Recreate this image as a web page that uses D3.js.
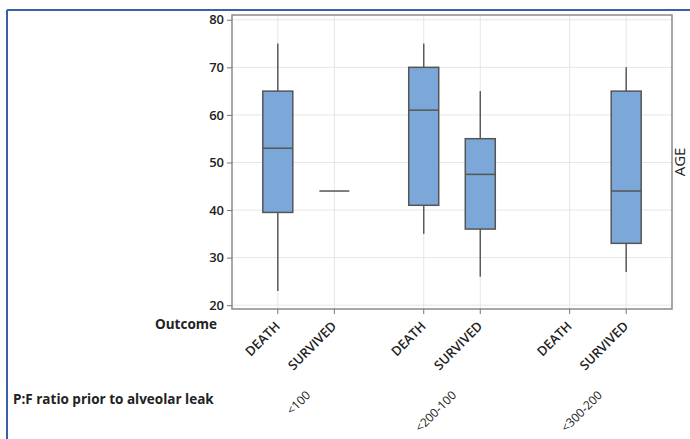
<!DOCTYPE html>
<html>
<head>
<meta charset="utf-8">
<script src="https://cdn.jsdelivr.net/npm/d3@7"></script>
<style>
  body { margin: 0; background: #fff; }
  text { font-family: "Open Sans", sans-serif; fill: #222; }
  .grid line { stroke: #e6e6e6; stroke-width: 1; }
  .axis path, .axis line { stroke: #777; }
  .axis text { font-size: 13px; font-weight: 600; }
</style>
</head>
<body>
<div id="chart"></div>
<script>
// P:F ratio groups and outcomes
var groups = ['<100', '<200-100', '<300-200'];
var outcomes = ['DEATH', 'SURVIVED'];
var yTicks = [20, 30, 40, 50, 60, 70, 80];

// box stats per group/outcome: [whiskerLow, q1, median, q3, whiskerHigh], null = no data
var deathStats = [[23, 39.5, 53, 65, 75], [35, 41, 61, 70, 75], null];
var survivedStats = [[44, 44, 44, 44, 44], [26, 36, 47.5, 55, 65], [27, 33, 44, 65, 70]];

var W = 690, H = 439;
var frame = { left: 232, right: 672, top: 15, bottom: 309 };
var groupStep = 2.58; // spacing between groups, in outcome units

var boxes = [];
groups.forEach(function(g, gi) {
  outcomes.forEach(function(o, oi) {
    var s = (oi === 0 ? deathStats : survivedStats)[gi];
    boxes.push({ group: g, outcome: o, pos: gi * groupStep + oi, stats: s });
  });
});

var x = d3.scaleLinear()
  .domain([-0.81, (groups.length - 1) * groupStep + 1 + 0.81])
  .range([frame.left, frame.right]);
var y = d3.scaleLinear().domain([19.2, 81]).range([frame.bottom, frame.top]);

var svg = d3.select('#chart').append('svg')
  .attr('width', W)
  .attr('height', H);

// outer page border
svg.append('line').attr('x1', 7).attr('x2', W).attr('y1', 10).attr('y2', 10)
  .attr('stroke', '#3b5fa8').attr('stroke-width', 2);
svg.append('line').attr('x1', 7).attr('x2', 7).attr('y1', 10).attr('y2', H)
  .attr('stroke', '#3b5fa8').attr('stroke-width', 2);

// grid
var grid = svg.append('g').attr('class', 'grid');
grid.selectAll('.hg').data(yTicks).enter().append('line')
  .attr('x1', frame.left).attr('x2', frame.right)
  .attr('y1', function(d) { return y(d); }).attr('y2', function(d) { return y(d); });
grid.selectAll('.vg').data(boxes).enter().append('line')
  .attr('y1', frame.top).attr('y2', frame.bottom)
  .attr('x1', function(d) { return x(d.pos); }).attr('x2', function(d) { return x(d.pos); });

// frame
svg.append('rect')
  .attr('x', frame.left).attr('y', frame.top)
  .attr('width', frame.right - frame.left).attr('height', frame.bottom - frame.top)
  .attr('fill', 'none').attr('stroke', '#8a8a8a').attr('stroke-width', 1.5);

// y axis
var yAxis = d3.axisLeft(y).tickValues(yTicks).tickSize(5).tickPadding(3);
var gy = svg.append('g')
  .attr('class', 'axis')
  .attr('transform', 'translate(' + frame.left + ',0)')
  .call(yAxis);
gy.select('.domain').remove();

svg.append('text')
  .attr('transform', 'translate(685,' + ((frame.top + frame.bottom) / 2) + ') rotate(-90)')
  .attr('text-anchor', 'middle')
  .style('font-size', '15px')
  .text('AGE');

// x axis (outcome ticks)
var gx = svg.append('g')
  .attr('class', 'axis')
  .attr('transform', 'translate(0,' + frame.bottom + ')');
gx.selectAll('line').data(boxes).enter().append('line')
  .attr('x1', function(d) { return x(d.pos); }).attr('x2', function(d) { return x(d.pos); })
  .attr('y1', 0).attr('y2', 5);
gx.selectAll('text').data(boxes).enter().append('text')
  .attr('text-anchor', 'end')
  .attr('transform', function(d) { return 'translate(' + (x(d.pos) + 3) + ',18) rotate(-45)'; })
  .text(function(d) { return d.outcome; });

svg.append('text')
  .attr('x', 217).attr('y', 329)
  .attr('text-anchor', 'end')
  .style('font-size', '13.5px').style('font-weight', 700)
  .text('Outcome');

// group labels
svg.selectAll('.grp').data(groups).enter().append('text')
  .attr('text-anchor', 'end')
  .style('font-size', '12px')
  .attr('transform', function(d, i) {
    return 'translate(' + (x(i * groupStep + 0.5) + 5) + ',396) rotate(-45)';
  })
  .text(function(d) { return d; });

svg.append('text')
  .attr('x', 13).attr('y', 404)
  .style('font-size', '13.5px').style('font-weight', 700)
  .text('P:F ratio prior to alveolar leak');

// boxes
var half = 15;
var bx = svg.selectAll('.box').data(boxes.filter(function(d) { return d.stats; }))
  .enter().append('g').attr('class', 'box');

bx.append('line')
  .attr('x1', function(d) { return x(d.pos); }).attr('x2', function(d) { return x(d.pos); })
  .attr('y1', function(d) { return y(d.stats[0]); }).attr('y2', function(d) { return y(d.stats[4]); })
  .attr('stroke', '#5a5a5a').attr('stroke-width', 1.5);

bx.append('rect')
  .attr('x', function(d) { return x(d.pos) - half; })
  .attr('width', half * 2)
  .attr('y', function(d) { return y(d.stats[3]); })
  .attr('height', function(d) { return y(d.stats[1]) - y(d.stats[3]); })
  .attr('fill', '#7ba7d9').attr('stroke', '#555').attr('stroke-width', 1.5);

bx.append('line')
  .attr('x1', function(d) { return x(d.pos) - half; }).attr('x2', function(d) { return x(d.pos) + half; })
  .attr('y1', function(d) { return y(d.stats[2]); }).attr('y2', function(d) { return y(d.stats[2]); })
  .attr('stroke', '#555').attr('stroke-width', 1.5);
</script>
</body>
</html>
